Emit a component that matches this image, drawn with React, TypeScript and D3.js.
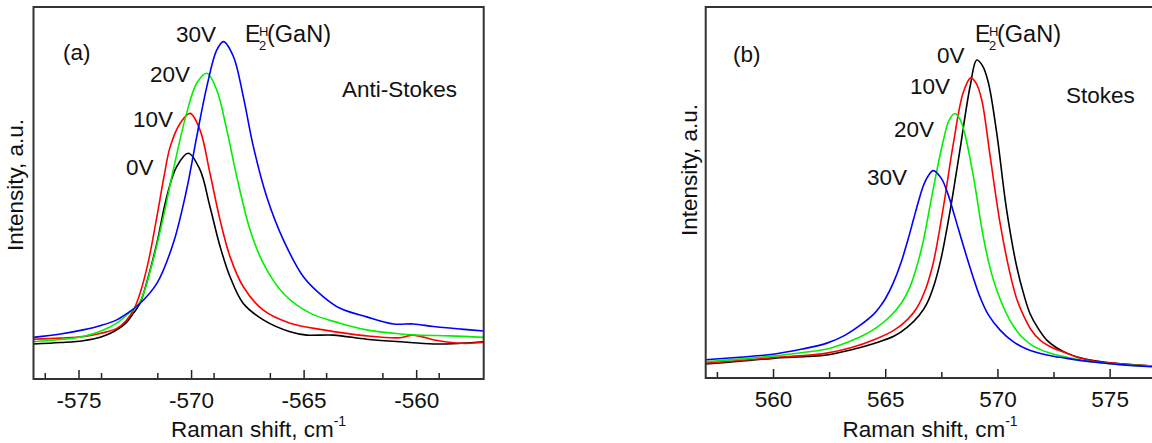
import { useEffect, useRef } from 'react';
import * as d3 from 'd3';

// Anti-Stokes spectra, panel (a): [Raman shift, intensity a.u.]
const antiStokes0V = [
  [-577, 9.4], [-575.8, 9.8], [-574.8, 10.3], [-574.0, 11.3], [-573.45, 12.7], [-572.9, 15.0], [-572.56, 17.7],
  [-572.27, 20.3], [-571.9, 27.5], [-571.52, 36.5], [-571.08, 49], [-570.64, 57.1], [-570.12, 60.7],
  [-569.6, 56.2], [-569.16, 46.3], [-568.71, 35.6], [-568.27, 27.5], [-567.68, 20.3], [-566.79, 15.9],
  [-565.6, 12.7], [-564.86, 11.8], [-563.68, 11.8], [-562.2, 10.7], [-560.71, 10.0], [-559.23, 9.4],
  [-558, 9.6], [-557, 10.0],
];
const antiStokes10V = [
  [-577, 10.7], [-575.8, 11.0], [-574.8, 11.4], [-574.0, 12.3], [-573.3, 13.6], [-572.9, 15.6], [-572.56, 18.5],
  [-572.27, 23.0], [-571.9, 31.5], [-571.52, 43.6], [-571.2, 54.5], [-570.93, 62.4], [-570.49, 68.7],
  [-570.04, 71.4], [-569.6, 66.9], [-569.16, 55.3], [-568.71, 42.7], [-568.27, 32.9], [-567.68, 24.8],
  [-566.79, 18.5], [-565.6, 15.0], [-564.12, 13.2], [-562.2, 11.6], [-560.71, 11.1], [-560.13, 11.8],
  [-559.2, 10.5], [-558, 9.6], [-557, 9.8],
];
const antiStokes20V = [
  [-577, 10.0], [-575.8, 10.6], [-574.8, 11.4], [-574.0, 12.9], [-573.3, 15.0], [-572.8, 17.5], [-572.27, 20.8],
  [-571.75, 30.5], [-571.23, 43.6], [-570.79, 56.2], [-570.2, 71.4], [-569.75, 79.5], [-569.3, 82.2],
  [-568.86, 77.7], [-568.41, 66.9], [-567.97, 54.4], [-567.38, 40.1], [-566.79, 31.1], [-565.9, 23.0],
  [-564.71, 17.7], [-563.38, 15.0], [-562.2, 13.2], [-561.0, 12.3], [-559.97, 11.8], [-558.5, 11.6], [-557, 11.2],
];
const antiStokes30V = [
  [-577, 11.2], [-575.8, 12.1], [-574.8, 13.2], [-574.0, 14.4], [-573.3, 15.9], [-572.8, 17.8], [-572.27, 20.3],
  [-571.52, 25.7], [-570.79, 36.5], [-570.2, 50.8], [-569.75, 65.1], [-569.3, 78.6], [-568.86, 88.4],
  [-568.56, 90.7], [-568.12, 86.7], [-567.68, 75.9], [-567.23, 62.4], [-566.64, 49], [-565.9, 37.4],
  [-565.01, 27.5], [-564.12, 22.1], [-563.38, 19.0], [-562.2, 16.7], [-561.0, 14.8], [-560.12, 14.8],
  [-559.23, 14.1], [-558, 13.4], [-557, 12.9],
];

// Stokes spectra, panel (b)
const stokes0V = [
  [557, 3.8], [558.5, 4.5], [560, 5.3], [561.5, 5.8], [562.4, 6.2], [563.5, 7.6], [564.5, 9.3],
  [565.4, 11.3], [566.0, 13.8], [566.5, 16.8], [566.85, 20], [567.2, 25.5], [567.5, 32.5], [567.89, 45],
  [568.33, 61.5], [568.78, 78.5], [569.08, 85.7], [569.35, 84], [569.6, 79.5], [569.97, 66], [570.41, 45.3],
  [570.86, 30], [571.2, 22], [571.45, 17.4], [571.8, 13.5], [572.2, 10.2], [572.6, 8.3], [573.09, 6.7],
  [573.6, 5.6], [574.27, 4.7], [575.5, 3.8], [577, 3.2],
];
const stokes10V = [
  [557, 4.0], [558.5, 4.7], [560, 5.5], [561.5, 6.1], [562.4, 6.7], [563.5, 8.2], [564.5, 10.3],
  [565.4, 12.9], [566.0, 15.8], [566.4, 18.8], [566.8, 24], [567.14, 31], [567.59, 46], [568.03, 63],
  [568.48, 77], [568.81, 80.9], [569.05, 79.5], [569.3, 75], [569.67, 60], [570.12, 41.7], [570.56, 28.2],
  [570.85, 21.5], [571.15, 17.0], [571.5, 13], [571.9, 10.2], [572.5, 8], [573.09, 6.7], [573.6, 5.5],
  [574.27, 4.6], [575.5, 3.8], [577, 3.2],
];
const stokes20V = [
  [557, 4.4], [558.5, 5.1], [560, 5.9], [561.5, 7.0], [562.4, 7.8], [563.3, 9.6], [563.9, 11.1],
  [564.6, 13.5], [565.2, 16.5], [565.7, 20], [566.1, 24.5], [566.45, 31], [566.7, 37], [567.14, 51],
  [567.59, 64], [567.85, 69.5], [568.11, 71.3], [568.35, 69.5], [568.56, 65.5], [568.93, 54.3],
  [569.37, 38.1], [569.7, 29], [569.97, 23.7], [570.35, 18], [570.71, 14], [571.1, 11], [571.6, 8.6],
  [572.3, 6.8], [573.09, 5.6], [574.27, 4.3], [575.5, 3.6], [577, 3.2],
];
const stokes30V = [
  [557, 4.9], [558.5, 5.6], [560, 6.4], [561.3, 7.8], [562.4, 9.4], [563.2, 11.5], [563.9, 14.3],
  [564.5, 17.3], [564.75, 19.1], [565.0, 21.3], [565.35, 25.5], [565.7, 31], [566.0, 37], [566.25, 42.5],
  [566.5, 48], [566.7, 51.8], [566.9, 54.3], [567.14, 55.9], [567.5, 53.8], [567.8, 49.5], [568.1, 43.5],
  [568.63, 32.7], [569.22, 21.9], [569.6, 17], [570.12, 12.9], [570.7, 9.8], [571.3, 7.8], [572.2, 6.2],
  [573.09, 5.3], [574.27, 4.3], [575.5, 3.6], [577, 3.0],
];

const ticksA = [-575, -570, -565, -560];
const ticksB = [560, 565, 570, 575];
const colors = ['#000000', '#ff0000', '#00f000', '#0000ff'];

const FONT = "Arial, 'Liberation Sans', sans-serif";
const FS = 22.5;

export default function App() {
  const svgRef = useRef<SVGSVGElement>(null);

  useEffect(() => {
    const svg = d3.select(svgRef.current);
    svg.selectAll('*').remove();

    const panels = [
      {
        id: 'a', left: 33.5, right: 483.7, bottom: 379, domain: [-577, -557], ticks: ticksA,
        series: [antiStokes0V, antiStokes10V, antiStokes20V, antiStokes30V], ylabelX: 23, ylabelY: 185,
      },
      {
        id: 'b', left: 705.7, right: 1154.5, bottom: 378, domain: [557, 577], ticks: ticksB,
        series: [stokes0V, stokes10V, stokes20V, stokes30V], ylabelX: 697, ylabelY: 170,
      },
    ];
    const top = 7;

    panels.forEach(p => {
      const x = d3.scaleLinear().domain(p.domain).range([p.left, p.right]);
      const y = d3.scaleLinear().domain([0, 100]).range([p.bottom, top]);
      const g = svg.append('g');

      svg.append('clipPath').attr('id', 'clip-' + p.id)
        .append('rect')
        .attr('x', p.left).attr('y', top)
        .attr('width', p.right - p.left).attr('height', p.bottom - top);

      const line = d3.line<number[]>()
        .x(d => x(d[0]))
        .y(d => y(d[1]))
        .curve(d3.curveCatmullRom.alpha(0.5));

      g.append('g').attr('clip-path', `url(#clip-${p.id})`)
        .selectAll('path')
        .data(p.series)
        .join('path')
        .attr('d', d => line(d))
        .attr('fill', 'none')
        .attr('stroke', (d, i) => colors[i])
        .attr('stroke-width', 1.6);

      // bottom axis, ticks pointing inward
      const axis = g.append('g')
        .attr('transform', `translate(0, ${p.bottom})`)
        .call(d3.axisBottom(x).tickValues(p.ticks).tickSize(-9).tickPadding(13).tickFormat(d3.format('d')));
      axis.select('.domain').remove();
      axis.selectAll('line').attr('stroke', '#222').attr('stroke-width', 1.5);
      axis.selectAll('text')
        .attr('font-family', FONT).attr('font-size', FS).attr('fill', '#111')
        .text((d: any) => (d < 0 ? '-' : '') + Math.abs(d));

      const minor = d3.range(p.domain[0] + 0.5, p.domain[1], 2.5).filter(v => !p.ticks.includes(v));
      const minorAxis = g.append('g')
        .attr('transform', `translate(0, ${p.bottom})`)
        .call(d3.axisBottom(x).tickValues(minor).tickSize(-6).tickFormat(() => ''));
      minorAxis.select('.domain').remove();
      minorAxis.selectAll('line').attr('stroke', '#222').attr('stroke-width', 1.5);

      // frame
      g.append('rect')
        .attr('x', p.left).attr('y', top)
        .attr('width', p.right - p.left).attr('height', p.bottom - top)
        .attr('fill', 'none').attr('stroke', '#333').attr('stroke-width', 2);

      // x title
      const cx = (p.left + p.right) / 2;
      const xt = g.append('text')
        .attr('x', cx).attr('y', 437)
        .attr('text-anchor', 'middle')
        .attr('font-family', FONT).attr('font-size', FS).attr('fill', '#111');
      xt.append('tspan').text('Raman shift, cm');
      xt.append('tspan').attr('dy', -11).attr('font-size', 14).text('-1');

      // y title
      g.append('text')
        .attr('transform', `translate(${p.ylabelX}, ${p.ylabelY}) rotate(-90)`)
        .attr('text-anchor', 'middle')
        .attr('font-family', FONT).attr('font-size', FS).attr('fill', '#111')
        .text('Intensity, a.u.');
    });

    const label = (tx: number, ty: number, t: string, size = FS) =>
      svg.append('text').attr('x', tx).attr('y', ty)
        .attr('font-family', FONT).attr('font-size', size).attr('fill', '#111').text(t);

    const e2h = (ex: number) => {
      label(ex, 41.7, 'E', 23);
      label(ex + 14, 36, 'H', 13);
      label(ex + 14, 50, '2', 13);
      label(ex + 22, 41.7, '(GaN)', 23.5);
    };

    // panel (a) annotations
    label(63, 60, '(a)');
    label(176, 41.7, '30V');
    label(150, 81.7, '20V');
    label(133, 126.7, '10V');
    label(126, 175, '0V');
    label(342, 96.7, 'Anti-Stokes');
    e2h(245);

    // panel (b) annotations
    label(733, 61.7, '(b)');
    label(937, 62.7, '0V');
    label(910, 94, '10V');
    label(894, 136.7, '20V');
    label(867, 185, '30V');
    label(1066, 102.7, 'Stokes');
    e2h(975);
  }, []);

  return (
    <svg
      ref={svgRef}
      width={1152}
      height={443}
      style={{ position: 'absolute', left: 0, top: 0, background: '#fff' }}
    ></svg>
  );
}
